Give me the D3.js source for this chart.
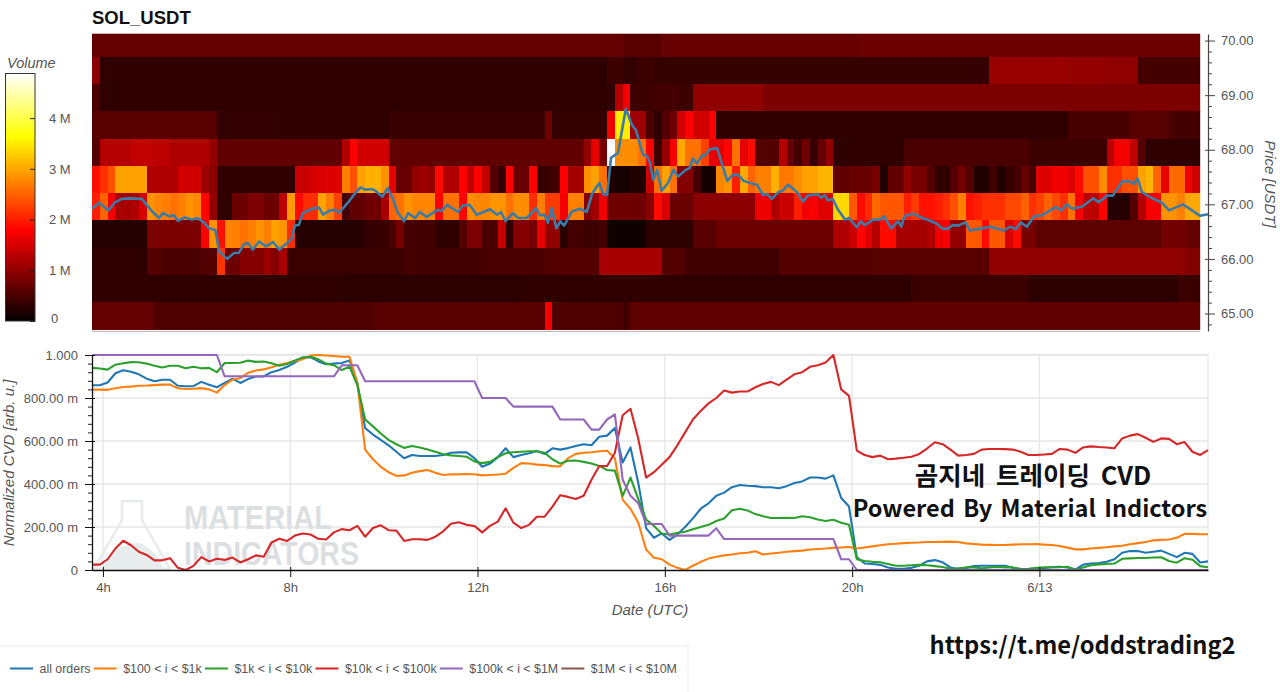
<!DOCTYPE html>
<html>
<head>
<meta charset="utf-8">
<script src="https://cdn.jsdelivr.net/npm/d3@7"></script>
<style>
  html, body { margin: 0; padding: 0; background: #fff; }
  svg { display: block; }
</style>
</head>
<body>
<svg id="chart" width="1280" height="692"></svg>
<script>
// ---- Volume profile: each row holds [first 10-minute bin, volume in millions] runs ----
const binCount = 142;
const binMinutes = 10;
const volume70 = [[0,.68],[68,.58],[73,.7],[98,.74]];
const volume695 = [[0,.95],[1,.3],[66,.4],[68,.32],[70,.4],[72,.34],[115,1.05],[125,1.0],[130,.98],[134,.45]];
const volume69 = [[0,.5],[1,.3],[67,1.25],[68,1.7],[69,.4],[72,.45],[75,.4],[77,.98],[86,.85]];
const volume685 = [[0,.58],[16,.32],[24,.3],[38,.36],[58,.75],[59,.34],[66,1.7],[67,3.5],[69,1.1],[71,.5],[72,.3],[73,.55],[74,.75],[75,1.45],[76,1.78],[77,1.45],[79,1.78],[80,.3],[125,.48],[133,.58],[138,.45]];
const volume68 = [[0,.55],[1,1.25],[5,1.35],[8,1.3],[10,1.2],[15,1.0],[16,.65],[32,1.2],[33,1.78],[34,1.45],[38,.65],[63,1.0],[64,1.6],[65,.8],[66,4.87],[67,2.8],[70,2.6],[71,1.78],[72,.4],[73,1.0],[74,1.75],[75,3.0],[76,2.6],[78,2.25],[79,1.6],[81,1.8],[82,2.6],[83,1.6],[84,1.85],[85,.55],[88,1.25],[89,.7],[90,.45],[91,.75],[92,.35],[93,.7],[94,1.0],[95,.3],[104,.5],[120,.4],[130,1.3],[131,1.7],[133,1.3],[134,.55],[135,.3]];
const volume675 = [[0,1.89],[1,2.13],[2,2.36],[3,2.95],[7,1.2],[11,1.45],[14,1.05],[15,.95],[16,.3],[26,1.4],[28,1.5],[30,1.55],[32,2.7],[33,2.36],[34,2.95],[35,3.06],[37,2.83],[38,1.6],[39,.7],[41,1.0],[42,1.1],[43,1.0],[44,1.85],[45,1.2],[47,1.78],[48,1.35],[49,1.78],[50,1.35],[51,.55],[52,.35],[53,1.78],[54,.7],[56,1.78],[57,.35],[59,.45],[60,1.78],[61,1.1],[63,2.83],[64,2.95],[65,2.59],[66,.2],[67,.12],[69,.2],[71,1.4],[72,2.6],[73,2.95],[74,2.6],[75,.9],[77,.45],[78,.12],[80,2.75],[81,2.85],[82,2.0],[83,3.0],[84,2.5],[85,2.7],[87,3.05],[88,2.65],[90,2.8],[91,2.95],[93,3.1],[95,.65],[97,.7],[100,.8],[101,.2],[102,.65],[104,1.0],[105,.8],[107,.55],[108,.3],[110,.55],[111,.78],[112,.55],[113,.2],[115,.45],[116,.2],[117,.35],[118,.45],[119,.7],[120,.45],[121,1.55],[123,1.68],[125,1.55],[126,1.85],[127,2.36],[129,2.8],[130,2.13],[132,2.36],[134,2.95],[135,3.1],[136,2.5],[137,1.6],[138,2.55],[140,1.68],[141,1.43]];
const volume67 = [[0,2.0],[1,2.5],[2,1.7],[3,1.15],[5,1.2],[6,1.5],[7,2.85],[8,2.75],[9,2.7],[10,2.6],[11,2.7],[12,2.85],[13,2.75],[14,1.8],[15,1.0],[16,.3],[18,.72],[20,.85],[22,.72],[24,1.3],[25,2.9],[26,1.85],[27,2.1],[29,2.95],[30,2.7],[31,2.25],[32,.45],[33,.65],[35,.75],[37,1.15],[38,2.5],[39,2.6],[40,2.85],[41,2.75],[44,1.78],[45,2.6],[47,1.8],[48,2.8],[49,2.75],[51,2.85],[53,2.6],[54,2.8],[56,2.1],[57,2.7],[58,2.2],[60,1.7],[61,2.7],[63,.9],[64,1.1],[65,1.7],[66,.75],[71,.9],[72,1.85],[73,1.5],[74,.72],[77,.95],[85,1.65],[87,1.2],[88,1.4],[90,2.0],[91,1.7],[92,1.75],[93,1.55],[95,3.35],[97,2.4],[98,1.85],[99,2.1],[100,2.55],[101,2.4],[104,2.0],[105,2.2],[106,1.9],[108,2.0],[109,2.13],[110,2.35],[111,2.7],[112,1.9],[113,2.0],[114,2.13],[117,2.3],[119,2.5],[120,2.13],[121,2.25],[122,2.5],[123,2.3],[124,2.13],[125,2.6],[126,1.75],[127,1.3],[129,1.78],[130,.22],[133,.55],[134,1.25],[135,1.7],[137,2.85],[139,2.7],[140,3.0]];
const volume665 = [[0,.22],[7,.85],[14,1.75],[15,2.85],[16,1.9],[17,2.75],[18,2.7],[19,2.6],[20,2.7],[21,2.85],[22,2.7],[23,2.95],[24,2.85],[25,2.1],[26,.22],[35,.35],[38,.5],[39,.8],[40,.45],[44,.3],[47,.55],[48,.85],[50,.5],[52,1.35],[53,.3],[54,.9],[56,.8],[57,1.6],[58,1.0],[60,.25],[61,.45],[63,.4],[65,.45],[66,.08],[71,.28],[77,.6],[80,.72],[95,1.2],[97,1.4],[98,1.8],[99,1.55],[100,1.25],[101,1.85],[103,1.15],[107,1.2],[108,1.65],[109,1.75],[110,1.0],[112,2.4],[114,1.85],[115,2.4],[117,1.5],[118,1.85],[119,.8],[121,.62],[137,.78],[140,.68]];
const volume66 = [[0,.3],[7,.55],[9,.5],[14,.55],[16,2.15],[17,.72],[19,.9],[22,1.05],[23,.9],[24,1.15],[25,.38],[40,.45],[50,.5],[58,.55],[65,1.15],[73,.55],[76,.42],[88,.55],[100,.58],[115,.98],[140,.88]];
const volume655 = [[0,.3],[32,.26],[55,.3],[105,.38],[120,.27],[139,.38]];
const volume65 = [[0,.68],[8,.52],[36,.58],[58,1.7],[59,.52],[68,.42],[69,.64]];
const volumeRows = [volume70, volume695, volume69, volume685, volume68, volume675, volume67, volume665, volume66, volume655, volume65];
const rowFloors = [69.705, 69.205, 68.705, 68.205, 67.705, 67.205, 66.705, 66.205, 65.705, 65.205, 64.705];
const rowStep = 0.5;

// ---- Price: minutes since 03:46 UTC and last traded price ----
const priceMinutes = [0,9,21,29,38,47,64,70,79,86,91,99,105,110,119,128,135,144,150,158,163,173,182,188,195,200,206,214,223,232,240,250,256,260,265,270,282,291,296,304,311,317,329,337,344,350,359,363,372,379,386,392,400,405,414,420,429,436,443,448,455,469,475,484,493,510,519,524,530,539,546,557,569,574,580,584,589,595,600,605,615,625,634,641,650,655,660,665,674,684,692,697,706,711,715,719,724,730,738,745,751,760,766,770,775,782,785,792,801,807,814,821,828,835,843,852,860,865,871,879,885,892,903,911,917,930,934,939,943,949,956,965,970,980,985,990,1001,1010,1015,1024,1033,1037,1041,1052,1064,1074,1083,1090,1097,1103,1110,1119,1125,1140,1151,1161,1169,1176,1184,1190,1198,1207,1217,1235,1242,1249,1256,1269,1283,1290,1301,1308,1320,1330,1335,1340,1345,1356,1371,1380,1398,1420,1430];
const priceValues = [66.92,67.03,66.89,67.03,67.10,67.11,67.10,66.99,66.84,66.75,66.84,66.78,66.80,66.70,66.76,66.72,66.75,66.66,66.56,66.53,66.14,66.00,66.11,66.11,66.27,66.29,66.17,66.32,66.23,66.31,66.17,66.29,66.38,66.61,66.62,66.84,66.92,66.94,66.81,66.88,66.90,66.85,67.05,67.20,67.31,67.27,67.28,67.25,67.14,67.30,67.08,66.84,66.69,66.84,66.75,66.86,66.77,66.84,66.90,66.88,66.99,66.86,66.98,66.99,66.81,66.91,66.81,66.86,66.69,66.84,66.75,66.75,66.93,66.80,66.81,66.66,66.93,66.56,66.69,66.61,66.87,66.92,66.86,67.20,67.39,67.19,67.17,67.85,67.94,68.75,68.45,68.36,67.91,67.89,67.76,67.45,67.63,67.25,67.39,67.63,67.51,67.62,67.67,67.84,67.75,67.90,67.89,68.01,68.03,67.75,67.43,67.54,67.54,67.43,67.39,67.36,67.17,67.19,67.10,67.22,67.25,67.36,67.23,67.05,67.16,67.19,67.12,67.17,67.07,67.10,66.90,66.72,66.75,66.58,66.69,66.62,66.72,66.72,66.78,66.56,66.69,66.59,66.78,66.83,66.75,66.70,66.64,66.55,66.56,66.62,66.61,66.67,66.52,66.56,66.59,66.55,66.52,66.59,66.55,66.67,66.59,66.78,66.80,66.95,66.89,67.00,66.92,66.96,67.11,67.04,67.16,67.16,67.42,67.42,67.38,67.47,67.23,67.13,67.03,66.89,67.00,66.79,66.82];

// ---- Normalized CVD, one reading per 10-minute bin ----
const cvdAllOrders = [
  .859,.859,.872,.915,.929,.922,.91,.89,.878,.885,
  .885,.857,.855,.855,.875,.862,.85,.87,.89,.87,
  .888,.90,.90,.92,.93,.945,.965,.988,.99,.97,
  .957,.96,.963,.975,.87,.66,.63,.605,.58,.55,
  .52,.535,.53,.53,.53,.535,.545,.547,.547,.52,
  .48,.495,.525,.566,.525,.535,.543,.553,.54,.566,
  .56,.567,.577,.585,.58,.62,.625,.66,.50,.57,
  .405,.195,.15,.17,.14,.165,.20,.24,.285,.31,
  .345,.36,.385,.395,.392,.39,.385,.385,.38,.39,
  .405,.412,.43,.43,.425,.44,.335,.295,.06,.03,
  .028,.024,.012,.006,.006,.01,.02,.04,.046,.036,
  .012,.004,.01,.018,.02,.02,.02,.02,.01,.004,
  .004,.006,.008,.014,.015,.012,.002,.025,.03,.032,
  .038,.05,.08,.088,.088,.08,.085,.09,.075,.06,
  .08,.075,.035,.04];
const cvdUnder1k = [
  .839,.839,.838,.845,.851,.853,.857,.858,.86,.862,
  .862,.845,.842,.843,.846,.84,.825,.86,.885,.893,
  .917,.928,.933,.943,.955,.963,.972,.98,.997,1.0,
  .998,.995,.992,.992,.87,.56,.515,.48,.455,.438,
  .44,.452,.46,.465,.452,.442,.445,.445,.446,.445,
  .44,.442,.444,.448,.475,.497,.495,.49,.488,.483,
  .482,.52,.54,.545,.548,.552,.555,.52,.326,.285,
  .22,.095,.057,.05,.025,.01,.0,.02,.038,.053,
  .062,.068,.072,.078,.08,.087,.072,.077,.08,.085,
  .088,.09,.095,.098,.10,.103,.105,.107,.10,.105,
  .11,.115,.12,.122,.125,.127,.128,.13,.13,.131,
  .132,.13,.124,.121,.118,.117,.116,.116,.118,.12,
  .12,.121,.118,.116,.112,.104,.096,.096,.10,.103,
  .106,.11,.113,.12,.125,.13,.138,.14,.142,.15,
  .168,.168,.166,.166];
const cvdUnder10k = [
  .94,.937,.932,.955,.962,.967,.966,.96,.95,.942,
  .95,.95,.938,.945,.938,.94,.92,.963,.963,.964,
  .974,.968,.97,.962,.95,.958,.975,.988,.992,.98,
  .96,.953,.93,.945,.86,.70,.668,.635,.605,.585,
  .568,.577,.57,.56,.55,.538,.533,.53,.527,.505,
  .497,.503,.525,.543,.548,.55,.552,.552,.545,.515,
  .495,.508,.509,.503,.495,.484,.465,.462,.345,.43,
  .33,.235,.205,.17,.165,.172,.178,.19,.20,.21,
  .228,.24,.278,.285,.277,.26,.25,.242,.242,.243,
  .242,.25,.245,.235,.228,.234,.22,.21,.05,.042,
  .038,.036,.028,.02,.02,.022,.024,.022,.018,.014,
  .006,.008,.012,.012,.008,.012,.014,.012,.012,.004,
  .006,.01,.012,.012,.013,.015,.001,.012,.022,.026,
  .028,.03,.052,.054,.056,.056,.058,.059,.042,.034,
  .055,.048,.018,.013];
const cvdUnder100k = [
  .025,.025,.05,.10,.136,.115,.085,.07,.045,.045,
  .055,.01,.0,.019,.06,.04,.052,.047,.058,.035,
  .05,.068,.062,.128,.145,.135,.16,.17,.165,.145,
  .142,.175,.19,.185,.205,.155,.195,.208,.185,.183,
  .135,.143,.143,.14,.155,.18,.215,.222,.21,.205,
  .175,.205,.225,.287,.22,.195,.21,.248,.248,.295,
  .348,.34,.33,.345,.42,.484,.484,.545,.72,.75,
  .61,.43,.455,.49,.525,.58,.64,.70,.74,.775,
  .80,.835,.825,.83,.83,.85,.865,.875,.86,.885,
  .91,.92,.945,.952,.965,1.0,.84,.81,.555,.535,
  .525,.532,.515,.518,.522,.527,.54,.565,.594,.585,
  .56,.532,.535,.54,.56,.563,.563,.562,.56,.55,
  .535,.535,.537,.54,.563,.56,.545,.57,.575,.572,
  .57,.566,.612,.625,.632,.615,.596,.612,.61,.585,
  .595,.55,.535,.558];
const cvdUnder1M = [
  1,1,1,1,1,1,1,1,1,1,1,1,1,1,1,1,1,
  .901,.901,.901,.901,.901,.901,.901,.901,.901,.901,.901,.901,.901,.901,.901,
  .952,.952,.952,
  .878,.878,.878,.878,.878,.878,.878,.878,.878,.878,.878,.878,.878,.878,.878,
  .80,.80,.80,.80,
  .76,.76,.76,.76,.76,.76,
  .70,.70,.70,.70,
  .653,.653,.70,.724,.42,.345,.31,
  .214,.214,.214,
  .16,.16,.16,.16,.16,.16,
  .194,
  .144,.144,.144,.144,.144,.144,.144,.144,.144,.144,.144,.144,.144,.144,.144,
  .05,.05,
  0,0,0,0,0,0,0,0,0,0,0,0,0,0,0,0,0,0,0,0,0,0,0,
  0,0,0,0,0,0,0,0,0,0,0,0,0,0,0,0,0,0,0,0,0,0,0];

// ---- Labels and ticks ----
const legendLabels = ["all orders", "$100 < i < $1k", "$1k < i < $10k", "$10k < i < $100k", "$100k < i < $1M", "$1M < i < $10M"];
const seriesColors = ["#1f77b4", "#ff7f0e", "#2ca02c", "#d62728", "#9467bd", "#8c564b"];
const cvdSeries = [cvdAllOrders, cvdUnder1k, cvdUnder10k, cvdUnder100k, cvdUnder1M];
const timeTicks = [14, 254, 494, 734, 974, 1214];
const timeTickLabels = ["4h", "8h", "12h", "16h", "20h", "6/13"];
const cvdTicks = [0, .2, .4, .6, .8, 1];
const cvdTickLabels = ["0", "200.00 m", "400.00 m", "600.00 m", "800.00 m", "1.000"];
const cvdMinorTicks = [.04,.08,.12,.16,.24,.28,.32,.36,.44,.48,.52,.56,.64,.68,.72,.76,.84,.88,.92,.96];
const priceTicks = [65, 66, 67, 68, 69, 70];
const priceMinorTicks = [64.8,65.2,65.4,65.6,65.8,66.2,66.4,66.6,66.8,67.2,67.4,67.6,67.8,68.2,68.4,68.6,68.8,69.2,69.4,69.6,69.8];
const volumeTicks = [0, 1, 2, 3, 4];
const volumeMax = 4.87;

const FONT = '"Liberation Sans", Arial, sans-serif';
const INK = "#555";

const svg = d3.select("#chart").style("font-family", FONT);

const x = d3.scaleLinear().domain([0, 1430]).range([92, 1208]);
const yPrice = d3.scaleLinear().domain([64.68, 70.12]).range([331, 34]);
const yCvd = d3.scaleLinear().domain([0, 1]).range([570, 355]);
const yBar = d3.scaleLinear().domain([0, volumeMax]).range([321, 74]);
const heat = d3.scaleLinear()
  .domain([0, .365 * volumeMax, .746 * volumeMax, volumeMax])
  .range(["#050000", "#ff0000", "#ffff00", "#ffffff"]);

svg.append("defs").append("clipPath").attr("id", "heat-clip")
  .append("rect").attr("x", 92).attr("y", 34).attr("width", x(binCount * binMinutes) - 92).attr("height", 297);

// Each row of runs becomes one volume per bin.
function expandRuns(runs) {
  const out = [];
  runs.forEach(([start, value], i) => {
    const end = i + 1 < runs.length ? runs[i + 1][0] : binCount;
    for (let k = start; k < end; k++) out.push({ bin: k, value });
  });
  return out;
}

// ---- Heatmap ----
const heatLayer = svg.append("g").attr("clip-path", "url(#heat-clip)").attr("shape-rendering", "crispEdges");
volumeRows.forEach((runs, r) => {
  heatLayer.append("g").selectAll("rect").data(expandRuns(runs)).join("rect")
    .attr("x", d => x(d.bin * binMinutes))
    .attr("width", d => x((d.bin + 1) * binMinutes) - x(d.bin * binMinutes) + .6)
    .attr("y", yPrice(rowFloors[r] + rowStep))
    .attr("height", yPrice(rowFloors[r]) - yPrice(rowFloors[r] + rowStep) + .3)
    .attr("fill", d => heat(d.value));
});
svg.append("line").attr("x1", 92).attr("x2", x(binCount * binMinutes)).attr("y1", 33.5).attr("y2", 33.5).attr("stroke", "#c9b5b5");
svg.append("line").attr("x1", 92).attr("x2", x(binCount * binMinutes)).attr("y1", 331.5).attr("y2", 331.5).attr("stroke", "#c9b5b5");

// Price sits on top of the heatmap.
svg.append("path")
  .datum(priceMinutes.map((m, i) => [m, priceValues[i]]))
  .attr("fill", "none").attr("stroke", "#3a7ba8").attr("stroke-width", 2.6)
  .attr("stroke-linejoin", "round")
  .attr("d", d3.line().x(d => x(d[0])).y(d => yPrice(d[1])));

// ---- Price axis ----
const priceAxisX = 1208;
const priceMinorAxis = svg.append("g").attr("transform", `translate(${priceAxisX},0)`)
  .call(d3.axisRight(yPrice).tickValues(priceMinorTicks).tickSize(4).tickFormat(""));
priceMinorAxis.select(".domain").remove();
priceMinorAxis.selectAll("line").attr("stroke", "#444");
const priceAxis = svg.append("g").attr("transform", `translate(${priceAxisX},0)`)
  .call(d3.axisRight(yPrice).tickValues(priceTicks).tickSizeInner(7).tickSizeOuter(0).tickPadding(6).tickFormat(d3.format(".2f")));
priceAxis.attr("font-family", FONT).attr("font-size", 13);
priceAxis.select(".domain").attr("stroke", "#444").attr("stroke-width", 1.2);
priceAxis.selectAll(".tick line").attr("x1", -3).attr("stroke", "#444");
priceAxis.selectAll("text").attr("fill", INK);
svg.append("text").attr("transform", "translate(1265,184) rotate(90)")
  .attr("text-anchor", "middle").attr("font-style", "italic").attr("font-size", 15).attr("fill", INK)
  .text("Price [USDT]");

// ---- Colour bar ----
svg.append("text").text("SOL_USDT").attr("x", 92).attr("y", 23.5)
  .attr("font-weight", 700).attr("font-size", 18.5).attr("fill", "#111");
svg.append("text").text("Volume").attr("x", 7).attr("y", 68)
  .attr("font-style", "italic").attr("font-size", 14.5).attr("fill", INK);
const barSteps = d3.range(0, volumeMax, volumeMax / 247);
svg.append("g").attr("shape-rendering", "crispEdges").selectAll("rect").data(barSteps).join("rect")
  .attr("x", 6).attr("width", 29)
  .attr("y", d => yBar(d) - 1).attr("height", 1.4)
  .attr("fill", d => heat(d));
svg.append("rect").attr("x", 5.5).attr("y", 73.5).attr("width", 29.5).attr("height", 247.5)
  .attr("fill", "none").attr("stroke", "#333");
const barAxis = svg.append("g").attr("transform", "translate(35,0)")
  .call(d3.axisRight(yBar).tickValues(volumeTicks).tickSizeInner(-5).tickSizeOuter(0).tickPadding(14).tickFormat(d => d === 0 ? "0" : `${d} M`));
barAxis.attr("font-family", FONT).attr("font-size", 13);
barAxis.select(".domain").remove();
barAxis.selectAll("line").attr("stroke", "#222");
barAxis.selectAll("text").attr("fill", INK).attr("dy", d => d === 0 ? "0.15em" : "0.32em");
barAxis.selectAll("text").filter(d => d === 0).attr("x", 16);

// ---- CVD panel: grid ----
const gridColor = "#e7e7e7";
const grid = svg.append("g").attr("stroke", gridColor).attr("stroke-width", 1.3);
grid.selectAll(".gx").data(timeTicks).join("line").attr("class", "gx")
  .attr("x1", d => x(d)).attr("x2", d => x(d)).attr("y1", 354).attr("y2", 570);
grid.selectAll(".gy").data(cvdTicks.slice(1)).join("line").attr("class", "gy")
  .attr("x1", 92).attr("x2", 1208).attr("y1", d => yCvd(d)).attr("y2", d => yCvd(d));
grid.append("line").attr("x1", 1208).attr("x2", 1208).attr("y1", 354).attr("y2", 570);
grid.append("line").attr("x1", 92).attr("x2", 1208).attr("y1", 354.5).attr("y2", 354.5);

// ---- Material Indicators watermark ----
const mark = svg.append("g");
mark.append("path")
  .attr("d", "M122 501 H142 V520 L170 569 H94 L122 520 Z")
  .attr("fill", "none").attr("stroke", "#e8e9e9").attr("stroke-width", 2.4);
mark.append("path")
  .attr("d", "M105 563 C112 552 118 546 126 546 C136 539 150 545 158 558 L163 568 H101 Z")
  .attr("fill", "#e7eded");
mark.selectAll("text").data(["MATERIAL", "INDICATORS"]).join("text")
  .text(d => d)
  .attr("x", 184)
  .attr("y", (d, i) => i ? 565 : 529)
  .attr("textLength", (d, i) => i ? 175 : 148)
  .attr("lengthAdjust", "spacingAndGlyphs")
  .attr("font-family", '"Liberation Sans Narrow", "Liberation Sans", sans-serif')
  .attr("font-weight", 700).attr("font-size", 33).attr("fill", "#dcdfe1");

// ---- CVD panel: series ----
const cvdLine = d3.line().x((d, i) => x(i * binMinutes)).y(d => yCvd(d)).curve(d3.curveLinear);
svg.append("g").selectAll("path").data(cvdSeries).join("path")
  .attr("fill", "none")
  .attr("stroke", (d, i) => seriesColors[i])
  .attr("stroke-width", 2.1)
  .attr("stroke-linejoin", "round")
  .attr("d", cvdLine);

// ---- CVD panel: axes ----
const cvdMinorAxis = svg.append("g").attr("transform", "translate(92,0)")
  .call(d3.axisLeft(yCvd).tickValues(cvdMinorTicks).tickSize(4).tickFormat(""));
cvdMinorAxis.select(".domain").remove();
cvdMinorAxis.selectAll("line").attr("stroke", "#222");
const cvdAxis = svg.append("g").attr("transform", "translate(92,0)")
  .call(d3.axisLeft(yCvd).tickValues(cvdTicks).tickSizeInner(7).tickSizeOuter(0).tickPadding(7).tickFormat((d, i) => cvdTickLabels[i]));
cvdAxis.attr("font-family", FONT).attr("font-size", 13);
cvdAxis.select(".domain").attr("stroke", "#111").attr("stroke-width", 1.3);
cvdAxis.selectAll(".tick line").attr("x2", 3).attr("x1", -7).attr("stroke", "#111");
cvdAxis.selectAll("text").attr("fill", INK);

const timeAxis = svg.append("g").attr("transform", "translate(0,570)")
  .call(d3.axisBottom(x).tickValues(timeTicks).tickSizeInner(7).tickSizeOuter(0).tickPadding(6).tickFormat((d, i) => timeTickLabels[i]));
timeAxis.attr("font-family", FONT).attr("font-size", 13);
timeAxis.select(".domain").attr("stroke", "#111").attr("stroke-width", 1.3);
timeAxis.selectAll(".tick line").attr("y1", -3).attr("stroke", "#111");
timeAxis.selectAll("text").attr("fill", INK);

svg.append("text").text("Date (UTC)").attr("x", 650).attr("y", 615)
  .attr("text-anchor", "middle").attr("font-style", "italic").attr("font-size", 15).attr("fill", INK);
svg.append("text").text("Normalized CVD [arb. u.]")
  .attr("transform", "translate(14,463) rotate(-90)")
  .attr("text-anchor", "middle").attr("font-style", "italic").attr("font-size", 15).attr("fill", INK);

// ---- Legend ----
const legend = svg.append("g");
legend.append("rect").attr("x", -2).attr("y", 646).attr("width", 690).attr("height", 50)
  .attr("fill", "#fff").attr("stroke", "#eeeeee").attr("stroke-width", 1.2);
let cursor = 10;
legendLabels.forEach((label, i) => {
  legend.append("line").attr("x1", cursor).attr("x2", cursor + 23).attr("y1", 668.5).attr("y2", 668.5)
    .attr("stroke", seriesColors[i]).attr("stroke-width", 2);
  const t = legend.append("text").text(label).attr("x", cursor + 29.5).attr("y", 673)
    .attr("font-size", 12.4).attr("fill", INK);
  cursor += 29.5 + t.node().getComputedTextLength() + 3.2;
});

// ---- Overlaid captions ----
const captionFont = '"Noto Sans CJK KR", "Noto Sans", sans-serif';
svg.append("g").attr("font-family", captionFont).attr("font-weight", 700).attr("fill", "#111")
  .selectAll("text")
  .data([
    { text: "곰지네 트레이딩 CVD", x: 1033, y: 485, size: 25.5, gap: 5 },
    { text: "Powered By Material Indictors", x: 1030, y: 517, size: 23.5, gap: 3 },
    { text: "https://t.me/oddstrading2", x: 1082.5, y: 654, size: 23.7, gap: 0 }
  ])
  .join("text")
  .text(d => d.text)
  .attr("x", d => d.x).attr("y", d => d.y)
  .attr("text-anchor", "middle")
  .attr("word-spacing", d => d.gap)
  .attr("font-size", d => d.size);
</script>
</body>
</html>
